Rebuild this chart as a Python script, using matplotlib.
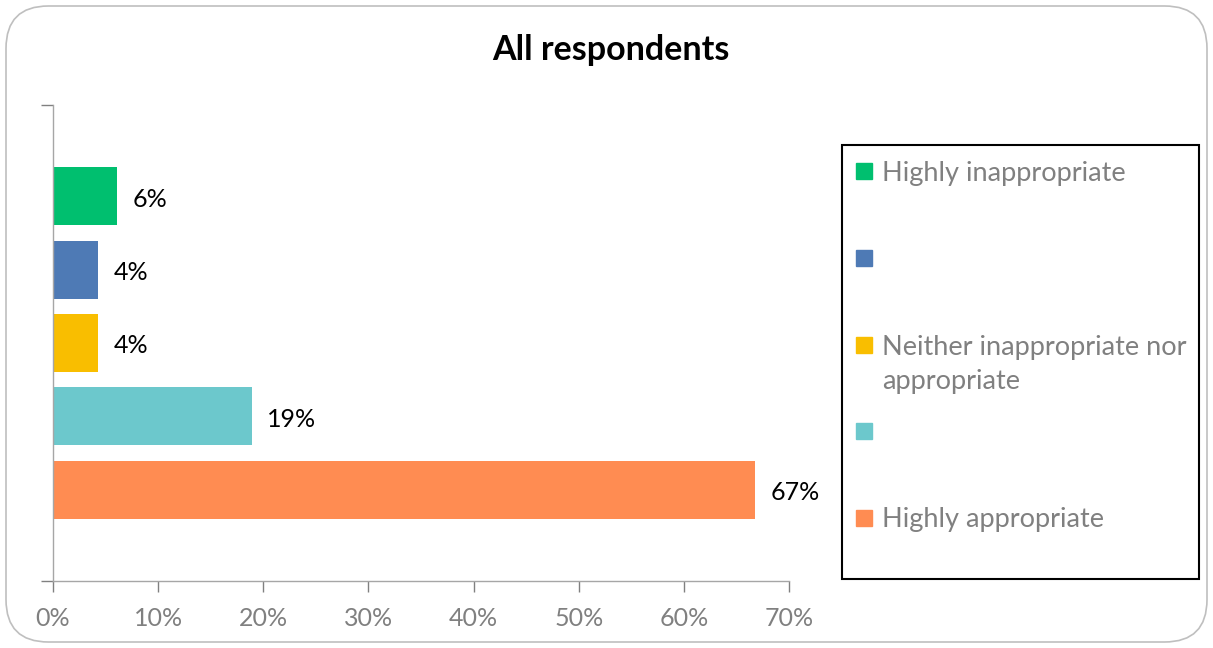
import matplotlib
matplotlib.use("Agg")
import matplotlib.pyplot as plt
from matplotlib.patches import FancyBboxPatch, Rectangle
from matplotlib.ticker import PercentFormatter

plt.rcParams['font.family'] = ['Lato', 'DejaVu Sans']

title = "All respondents"
categories = ["Highly inappropriate", "", "Neither inappropriate nor\nappropriate", "", "Highly appropriate"]
values = [0.061, 0.043, 0.043, 0.189, 0.668]
colors = ["#00BF6F", "#4E7AB5", "#F9BE00", "#6CC8CC", "#FF8C52"]
xticks = [0.0, 0.1, 0.2, 0.3, 0.4, 0.5, 0.6, 0.7]

W, H = 1213, 648
fig = plt.figure(figsize=(W / 100, H / 100), dpi=100)

# outer rounded border
border = FancyBboxPatch((6 / W, 6 / H), (W - 12) / W, (H - 12) / H,
                        boxstyle="round,pad=0,rounding_size=0.035",
                        transform=fig.transFigure, fill=False,
                        edgecolor="#BFBFBF", linewidth=1.2,
                        mutation_aspect=W / H)
fig.patches.append(border)

ax = fig.add_axes([53 / W, 1 - 581 / H, (789 - 53) / W, (581 - 105) / H])
ypos = list(range(len(values)))
ax.barh(ypos, values, height=0.79, color=colors)
half = (581 - 105) / 73.3 / 2
ax.set_ylim(2 + half, 2 - half)
ax.set_xlim(0, 0.7)
ax.set_xticks(xticks)
ax.xaxis.set_major_formatter(PercentFormatter(1.0, decimals=0))
ax.set_yticks([2 - half, 2 + half])
ax.set_yticklabels([])
ax.tick_params(axis='x', colors="#808080", labelsize=18, length=8, width=1, pad=11)
ax.tick_params(axis='y', colors="#808080", length=9, width=1)
for s in ["top", "right"]:
    ax.spines[s].set_visible(False)
for s in ["left", "bottom"]:
    ax.spines[s].set_color("#A6A6A6")
    ax.spines[s].set_linewidth(1)

for y, v in zip(ypos, values):
    ax.annotate(f"{round(v * 100):.0f}%", (v, y), xytext=(11, -2),
                textcoords="offset points", va="center", ha="left",
                fontsize=18, color="black")

fig.text(611 / W, 1 - 50 / H, title, ha="center", va="center",
         fontsize=24.5, fontweight="bold", color="black")

# legend box
lx0, lx1, ly0, ly1 = 842, 1199, 145, 579
fig.patches.append(Rectangle((lx0 / W, 1 - ly1 / H), (lx1 - lx0) / W, (ly1 - ly0) / H,
                             transform=fig.transFigure, fill=False,
                             edgecolor="black", linewidth=1.5))
leg_y = [171, 258, 345, 431, 518]
for y, lab, c in zip(leg_y, categories, colors):
    fig.patches.append(Rectangle((856 / W, 1 - (y + 8) / H), 16 / W, 16 / H,
                                 transform=fig.transFigure, color=c))
    for i, line in enumerate(lab.split("\n") if lab else []):
        fig.text(882 / W, 1 - (y + 2 + i * 35) / H, line, ha="left", va="center",
                 fontsize=19.5, color="#808080")

fig.savefig("out.png", dpi=100)
